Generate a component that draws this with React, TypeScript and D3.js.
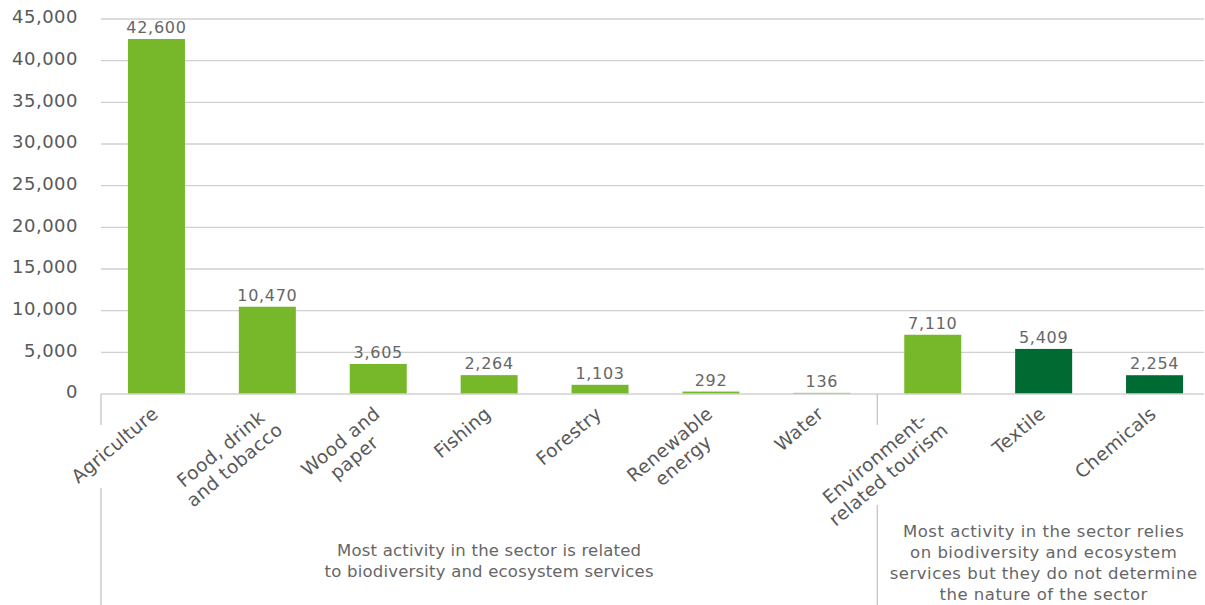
import React from "react";
import * as d3 from "d3";

const categories = [
  "Agriculture",
  "Food, drink and tobacco",
  "Wood and paper",
  "Fishing",
  "Forestry",
  "Renewable energy",
  "Water",
  "Environment-related tourism",
  "Textile",
  "Chemicals",
];
const labelLines: string[][] = [
  ["Agriculture"],
  ["Food, drink", "and tobacco"],
  ["Wood and", "paper"],
  ["Fishing"],
  ["Forestry"],
  ["Renewable", "energy"],
  ["Water"],
  ["Environment-", "related tourism"],
  ["Textile"],
  ["Chemicals"],
];
const values = [42600, 10470, 3605, 2264, 1103, 292, 136, 7110, 5409, 2254];
const groups = [0, 0, 0, 0, 0, 0, 0, 0, 1, 1]; // colour group
const yTicks = [0, 5000, 10000, 15000, 20000, 25000, 30000, 35000, 40000, 45000];
const groupLeftText = [
  "Most activity in the sector is related",
  "to biodiversity and ecosystem services",
];
const groupRightText = [
  "Most activity in the sector relies",
  "on biodiversity and ecosystem",
  "services but they do not determine",
  "the nature of the sector",
];

const FONT = "'DejaVu Sans', sans-serif";
const TEXT = "#595959";
const COLORS = ["#76B82A", "#006A33"];

let _ctx: CanvasRenderingContext2D | null = null;
function measure(text: string, size: number, spacing: number) {
  if (!_ctx) _ctx = document.createElement("canvas").getContext("2d");
  if (!_ctx) return text.length * (size * 0.55 + spacing);
  _ctx.font = `${size}px 'DejaVu Sans'`;
  return _ctx.measureText(text).width + text.length * spacing;
}

export default function App() {
  const W = 1205;
  const H = 605;
  const x0 = 101;
  const x1 = 1210;
  const y = d3.scaleLinear().domain([0, 45000]).range([394, 19]);
  const x = d3
    .scaleBand()
    .domain(categories)
    .range([x0, x1])
    .paddingInner(0.486)
    .paddingOuter(0.243);
  const bw = x.bandwidth();
  const gap = (x.step() - bw) / 2;
  const divX = (x(categories[7]) as number) - gap;
  const fmt = d3.format(",");
  const labSize = 18.5;
  const labSp = 0.4;
  const lh = 21;

  return (
    <svg
      width={W}
      height={H}
      style={{ position: "absolute", left: 0, top: 0, fontFamily: FONT }}
    >
      <rect width={W} height={H} fill="#fff" />
      {yTicks.map((t) => (
        <g key={t}>
          {t > 0 && (
            <line x1={x0} x2={1204} y1={y(t)} y2={y(t)} stroke="#D0D0D0" strokeWidth={1.3} />
          )}
          <text
            x={78}
            y={y(t) - 2}
            dy="0.35em"
            textAnchor="end"
            fontSize={18}
            letterSpacing={0.5}
            fill={TEXT}
          >
            {fmt(t)}
          </text>
        </g>
      ))}
      {categories.map((c, i) => {
        const bx = x(c) as number;
        return (
          <g key={c}>
            <rect
              x={bx}
              y={y(values[i])}
              width={bw}
              height={y(0) - y(values[i])}
              fill={COLORS[groups[i]]}
            />
            <text
              x={bx + bw / 2}
              y={y(values[i]) - 6}
              textAnchor="middle"
              fontSize={16}
              letterSpacing={0.7}
              fill="#666"
            >
              {fmt(values[i])}
            </text>
          </g>
        );
      })}
      <line x1={x0} x2={1204} y1={y(0)} y2={y(0)} stroke="#D0D0D0" strokeWidth={1.6} />
      {/* category axis separators */}
      <line x1={x0} x2={x0} y1={y(0)} y2={425} stroke="#BFBFBF" strokeWidth={1.2} />
      <line x1={x0} x2={x0} y1={488} y2={605} stroke="#BFBFBF" strokeWidth={1.2} />
      <line x1={divX} x2={divX} y1={y(0)} y2={425} stroke="#BFBFBF" strokeWidth={1.2} />
      <line x1={divX} x2={divX} y1={505} y2={605} stroke="#BFBFBF" strokeWidth={1.2} />
      {categories.map((c, i) => {
        const cx = (x(c) as number) + bw / 2;
        const lines = labelLines[i];
        const wmax = Math.max(...lines.map((l) => measure(l, labSize, labSp)));
        return (
          <g key={c} transform={`translate(${cx - 6},405) rotate(-40)`}>
            {lines.map((l, j) => (
              <text
                key={j}
                x={-wmax / 2}
                y={14 + j * lh}
                textAnchor="middle"
                fontSize={labSize}
                letterSpacing={labSp}
                fill={TEXT}
              >
                {l}
              </text>
            ))}
          </g>
        );
      })}
      {groupLeftText.map((t, j) => (
        <text
          key={t}
          x={(x0 + divX) / 2}
          y={550 + j * 21}
          dy="0.35em"
          textAnchor="middle"
          fontSize={16.5}
          letterSpacing={0.2}
          fill="#666"
        >
          {t}
        </text>
      ))}
      {groupRightText.map((t, j) => (
        <text
          key={t}
          x={(divX + 1210) / 2}
          y={531 + j * 21}
          dy="0.35em"
          textAnchor="middle"
          fontSize={16.5}
          letterSpacing={0.5}
          fill="#666"
        >
          {t}
        </text>
      ))}
    </svg>
  );
}
